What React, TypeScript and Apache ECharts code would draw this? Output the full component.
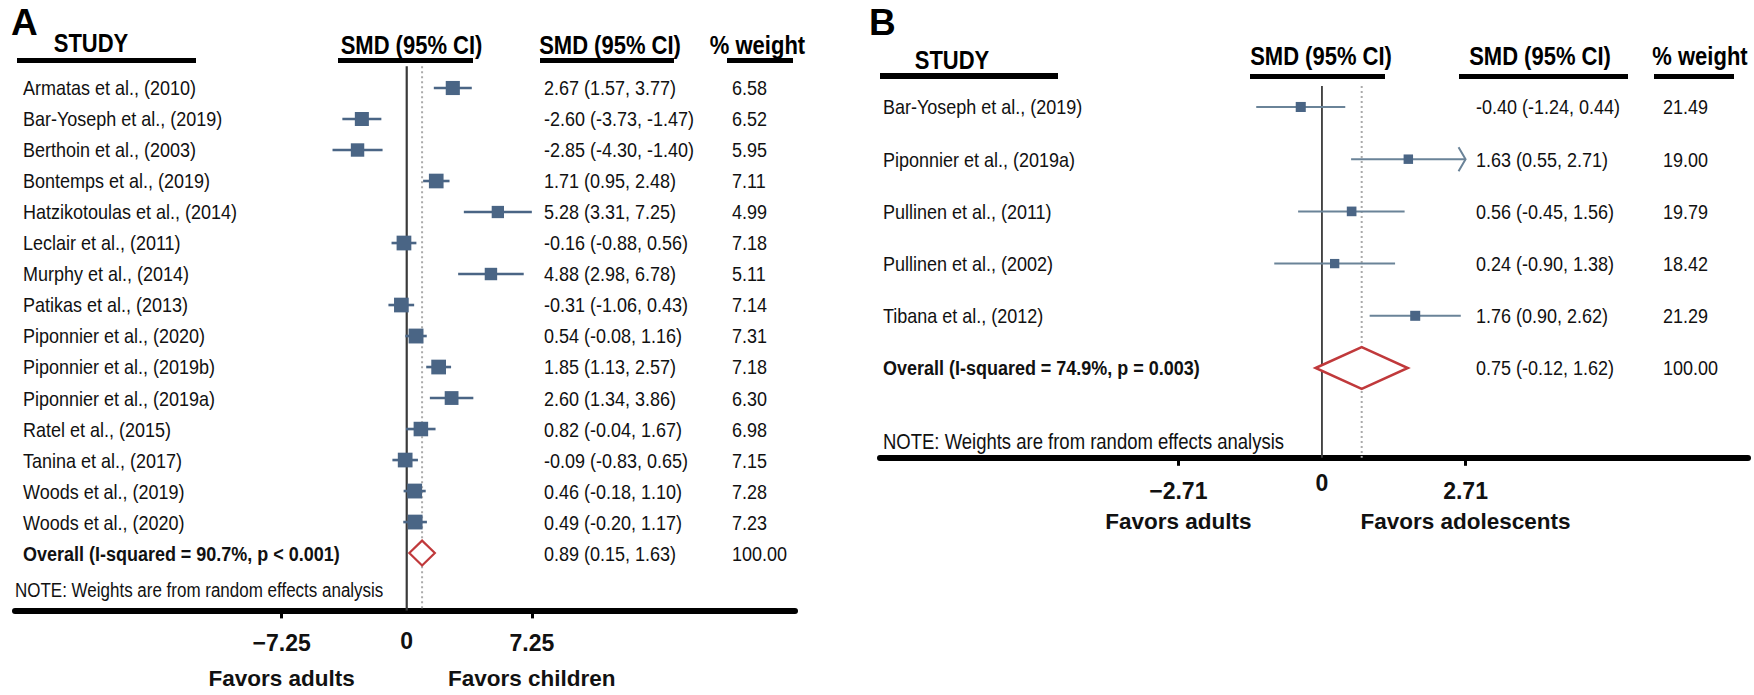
import React, { useEffect, useRef } from 'react';
import * as echarts from 'echarts';

const FONT = '"Liberation Sans", Arial, Helvetica, sans-serif';

// ---------- Panel A data ----------
const studiesA = [
  'Armatas et al., (2010)',
  'Bar-Yoseph et al., (2019)',
  'Berthoin et al., (2003)',
  'Bontemps et al., (2019)',
  'Hatzikotoulas et al., (2014)',
  'Leclair et al., (2011)',
  'Murphy et al., (2014)',
  'Patikas et al., (2013)',
  'Piponnier et al., (2020)',
  'Piponnier et al., (2019b)',
  'Piponnier et al., (2019a)',
  'Ratel et al., (2015)',
  'Tanina et al., (2017)',
  'Woods et al., (2019)',
  'Woods et al., (2020)',
];
const smdA = [2.67, -2.6, -2.85, 1.71, 5.28, -0.16, 4.88, -0.31, 0.54, 1.85, 2.6, 0.82, -0.09, 0.46, 0.49];
const lowA = [1.57, -3.73, -4.3, 0.95, 3.31, -0.88, 2.98, -1.06, -0.08, 1.13, 1.34, -0.04, -0.83, -0.18, -0.2];
const highA = [3.77, -1.47, -1.4, 2.48, 7.25, 0.56, 6.78, 0.43, 1.16, 2.57, 3.86, 1.67, 0.65, 1.1, 1.17];
const weightA = [6.58, 6.52, 5.95, 7.11, 4.99, 7.18, 5.11, 7.14, 7.31, 7.18, 6.3, 6.98, 7.15, 7.28, 7.23];
const arrowA = [0, 0, 0, 0, 0, 0, 0, 0, 0, 0, 0, 0, 0, 0, 0];
const overallLabelA = 'Overall (I-squared = 90.7%, p < 0.001)';
const overallA = [0.89, 0.15, 1.63];
const overallWeightA = 100.0;
const ticksA = [-7.25, 0, 7.25];
const favorsA = ['Favors adults', 'Favors children'];

// ---------- Panel B data ----------
const studiesB = [
  'Bar-Yoseph et al., (2019)',
  'Piponnier et al., (2019a)',
  'Pullinen et al., (2011)',
  'Pullinen et al., (2002)',
  'Tibana et al., (2012)',
];
const smdB = [-0.4, 1.63, 0.56, 0.24, 1.76];
const lowB = [-1.24, 0.55, -0.45, -0.9, 0.9];
const highB = [0.44, 2.71, 1.56, 1.38, 2.62];
const weightB = [21.49, 19.0, 19.79, 18.42, 21.29];
const arrowB = [0, 1, 0, 0, 0];
const overallLabelB = 'Overall (I-squared = 74.9%, p = 0.003)';
const overallB = [0.75, -0.12, 1.62];
const overallWeightB = 100.0;
const ticksB = [-2.71, 0, 2.71];
const favorsB = ['Favors adults', 'Favors adolescents'];

const NOTE = 'NOTE: Weights are from random effects analysis';

// ---------- layout (positions / styles only) ----------
const layoutA = {
  left: 15, top: 66.3, width: 780, height: 544.1,
  xMin: -22.7, xMax: 22.5, yMin: -0.7, yMax: 16.85,
  nameDx: 8, ciDx: 529, wDx: 717,
  boxK: 5.5, ciWidth: 2.6, lineColor: '#4a6585', diamondWidth: 2.2,
  noteDx: 0, noteDy: -20, noteSize: 17,
  labelMargin: 20, zeroLH: 22, favorsLH: 44, zeroLineWidth: 2.2,
};
const layoutB = {
  left: 880, top: 86.1, width: 868, height: 371.7,
  xMin: -8.34, xMax: 8.04, yMin: -0.4, yMax: 6.72,
  nameDx: 3, ciDx: 596, wDx: 783,
  boxK: 2.17, ciWidth: 2, lineColor: '#6a8398', diamondWidth: 2.5,
  noteDx: 3, noteDy: -16, noteSize: 18.5,
  labelMargin: 20, zeroLH: 10, favorsLH: 36, zeroLineWidth: 1.8,
};

const BOX_COLOR = '#4a6585';
const DIAMOND_COLOR = '#c0393b';
const ROW_FONT = 18;
const STRETCH = 1.15;

const fmt = (v: number) => v.toFixed(2);

function txt(x: number, y: number, text: string, size: number, bold = false, align = 'left') {
  return {
    type: 'text',
    x,
    y,
    scaleY: STRETCH,
    style: {
      text,
      fill: '#111',
      fontSize: size,
      fontFamily: FONT,
      fontWeight: bold ? 'bold' : 'normal',
      align,
      verticalAlign: 'middle',
    },
  };
}

function rowsSeries(idx: number, L: any, names: string[], smd: number[], lo: number[], hi: number[], w: number[], arrow: number[]) {
  return {
    type: 'custom',
    xAxisIndex: idx,
    yAxisIndex: idx,
    z: 3,
    clip: false,
    silent: true,
    data: names.map((_, i) => [i, smd[i], lo[i], hi[i], w[i], arrow[i]]),
    encode: { x: [1, 2, 3], y: 0 },
    renderItem: (params: any, api: any) => {
      const i = params.dataIndex;
      const row = api.value(0);
      const est = api.value(1);
      const l = api.value(2);
      const h = api.value(3);
      const wt = api.value(4);
      const c = api.coord([est, row]);
      const cl = api.coord([l, row]);
      const ch = api.coord([h, row]);
      const cs = params.coordSys;
      const side = L.boxK * Math.sqrt(wt);
      const children: any[] = [
        {
          type: 'line',
          shape: { x1: cl[0], y1: c[1], x2: ch[0], y2: c[1] },
          style: { stroke: L.lineColor, lineWidth: L.ciWidth },
        },
        {
          type: 'rect',
          shape: { x: c[0] - side / 2, y: c[1] - side / 2, width: side, height: side },
          style: { fill: BOX_COLOR },
        },
        txt(cs.x + L.nameDx, c[1], names[i], ROW_FONT),
        txt(cs.x + L.ciDx, c[1], `${fmt(est)} (${fmt(l)}, ${fmt(h)})`, ROW_FONT),
        txt(cs.x + L.wDx, c[1], fmt(wt), ROW_FONT),
      ];
      if (api.value(5)) {
        children.push({
          type: 'polyline',
          shape: { points: [[ch[0] - 7, c[1] - 12], [ch[0], c[1]], [ch[0] - 7, c[1] + 12]] },
          style: { stroke: L.lineColor, lineWidth: L.ciWidth, fill: 'none' },
        });
      }
      return { type: 'group', children };
    },
  };
}

function overallSeries(idx: number, L: any, row: number, label: string, ov: number[], weight: number) {
  return {
    type: 'custom',
    xAxisIndex: idx,
    yAxisIndex: idx,
    z: 4,
    clip: false,
    silent: true,
    data: [[row, ov[0], ov[1], ov[2], weight]],
    encode: { x: [1, 2, 3], y: 0 },
    renderItem: (params: any, api: any) => {
      const r = api.value(0);
      const est = api.value(1);
      const l = api.value(2);
      const h = api.value(3);
      const wt = api.value(4);
      const c = api.coord([est, r]);
      const cl = api.coord([l, r]);
      const ch = api.coord([h, r]);
      const hh = api.size([0, 1])[1] * 0.4;
      const cs = params.coordSys;
      return {
        type: 'group',
        children: [
          {
            type: 'polygon',
            shape: { points: [[cl[0], c[1]], [c[0], c[1] - hh], [ch[0], c[1]], [c[0], c[1] + hh]] },
            style: { stroke: DIAMOND_COLOR, lineWidth: L.diamondWidth, fill: '#fff' },
          },
          txt(cs.x + L.nameDx, c[1], label, ROW_FONT, true),
          txt(cs.x + L.ciDx, c[1], `${fmt(est)} (${fmt(l)}, ${fmt(h)})`, ROW_FONT),
          txt(cs.x + L.wDx, c[1], fmt(wt), ROW_FONT),
        ],
      };
    },
  };
}

function refSeries(idx: number, L: any, est: number) {
  return {
    type: 'custom',
    xAxisIndex: idx,
    yAxisIndex: idx,
    z: 1,
    clip: false,
    silent: true,
    data: [[0, est]],
    encode: { x: [0, 1] },
    renderItem: (params: any, api: any) => {
      const z0 = api.coord([api.value(0), L.yMin]);
      const z1 = api.coord([api.value(0), L.yMax]);
      const e0 = api.coord([api.value(1), L.yMin]);
      const e1 = api.coord([api.value(1), L.yMax]);
      const cs = params.coordSys;
      return {
        type: 'group',
        children: [
          {
            type: 'line',
            shape: { x1: e0[0], y1: e0[1], x2: e1[0], y2: e1[1] },
            style: { stroke: '#aaaaaa', lineWidth: 2, lineDash: [2, 3] },
          },
          {
            type: 'line',
            shape: { x1: z0[0], y1: z0[1], x2: z1[0], y2: z1[1] },
            style: { stroke: '#3a3a3a', lineWidth: L.zeroLineWidth },
          },
          txt(cs.x + L.noteDx, cs.y + cs.height + L.noteDy, NOTE, L.noteSize),
        ],
      };
    },
  };
}

function xAxisFor(idx: number, L: any, ticks: number[], favors: string[]) {
  return {
    type: 'value',
    gridIndex: idx,
    min: L.xMin,
    max: L.xMax,
    splitLine: { show: false },
    axisLine: { show: true, onZero: false, lineStyle: { color: '#000', width: 6 } },
    axisTick: {
      show: true,
      customValues: ticks.filter((v) => v !== 0),
      length: 8,
      inside: false,
      lineStyle: { color: '#000', width: 3 },
    },
    axisLabel: {
      show: true,
      customValues: ticks,
      margin: L.labelMargin,
      formatter: (v: number) => {
        if (Math.abs(v) < 1e-9) return '{z|0}';
        const s = (v < 0 ? '\u2212' : '') + fmt(Math.abs(v));
        return `{t|${s}}\n{f|${v < 0 ? favors[0] : favors[1]}}`;
      },
      rich: {
        t: { fontSize: 23, fontWeight: 'bold', fontFamily: FONT, color: '#111', lineHeight: 26, align: 'center' },
        f: { fontSize: 22.5, fontWeight: 'bold', fontFamily: FONT, color: '#111', lineHeight: L.favorsLH, align: 'center' },
        z: { fontSize: 23, fontWeight: 'bold', fontFamily: FONT, color: '#111', lineHeight: L.zeroLH, align: 'center' },
      },
    },
  };
}

function yAxisFor(idx: number, L: any) {
  return { type: 'value', gridIndex: idx, inverse: true, min: L.yMin, max: L.yMax, show: false };
}

function headerText(x: number, y: number, text: string, size = 22, align = 'center', stretch = STRETCH) {
  return {
    type: 'text',
    x,
    y,
    scaleY: stretch,
    style: { text, fill: '#000', fontSize: size, fontWeight: 'bold', fontFamily: FONT, align, verticalAlign: 'middle' },
  };
}
function bar(x: number, y: number, w: number, h: number) {
  return { type: 'rect', shape: { x, y, width: w, height: h }, style: { fill: '#000' } };
}

function buildOption() {
  return {
    animation: false,
    backgroundColor: '#fff',
    textStyle: { fontFamily: FONT },
    grid: [
      { left: layoutA.left, top: layoutA.top, width: layoutA.width, height: layoutA.height, containLabel: false, outerBoundsMode: 'none' },
      { left: layoutB.left, top: layoutB.top, width: layoutB.width, height: layoutB.height, containLabel: false, outerBoundsMode: 'none' },
    ],
    xAxis: [xAxisFor(0, layoutA, ticksA, favorsA), xAxisFor(1, layoutB, ticksB, favorsB)],
    yAxis: [yAxisFor(0, layoutA), yAxisFor(1, layoutB)],
    graphic: [
      headerText(11, 22, 'A', 37, 'left', 1),
      headerText(91, 43, 'STUDY'),
      bar(17, 58, 179, 5),
      headerText(411.5, 45, 'SMD (95% CI)'),
      bar(338, 58, 135, 5),
      headerText(610, 45, 'SMD (95% CI)'),
      bar(540, 58, 134, 5),
      headerText(757.5, 45, '% weight'),
      bar(727, 58, 66, 5),

      headerText(869, 22, 'B', 37, 'left', 1),
      headerText(952, 60, 'STUDY'),
      bar(880, 73, 178, 6),
      headerText(1321, 56, 'SMD (95% CI)'),
      bar(1250, 74, 135, 5),
      headerText(1540, 56, 'SMD (95% CI)'),
      bar(1459, 74, 169, 5),
      headerText(1700, 56, '% weight'),
      bar(1654, 74, 80, 5),
    ],
    series: [
      refSeries(0, layoutA, overallA[0]),
      rowsSeries(0, layoutA, studiesA, smdA, lowA, highA, weightA, arrowA),
      overallSeries(0, layoutA, studiesA.length, overallLabelA, overallA, overallWeightA),
      refSeries(1, layoutB, overallB[0]),
      rowsSeries(1, layoutB, studiesB, smdB, lowB, highB, weightB, arrowB),
      overallSeries(1, layoutB, studiesB.length, overallLabelB, overallB, overallWeightB),
    ],
  };
}

export default function App() {
  const ref = useRef<HTMLDivElement>(null);
  useEffect(() => {
    document.body.style.margin = '0';
    const chart = echarts.init(ref.current as HTMLDivElement, null, { renderer: 'svg' });
    chart.setOption(buildOption() as any);
    return () => chart.dispose();
  }, []);
  return <div ref={ref} style={{ width: 1754, height: 695, background: '#fff' }} />;
}
